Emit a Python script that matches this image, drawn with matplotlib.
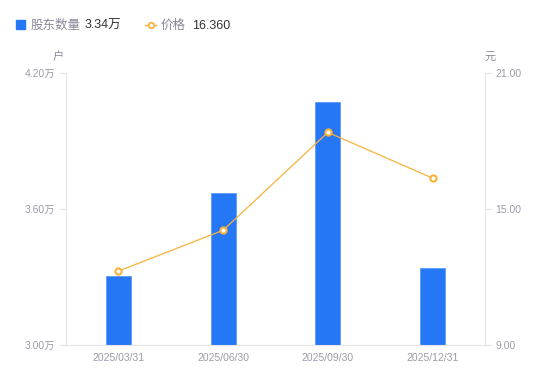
import matplotlib
matplotlib.use("Agg")
import matplotlib.pyplot as plt
from matplotlib.lines import Line2D
import numpy as np

plt.rcParams["font.family"] = ["Liberation Sans", "Noto Sans CJK SC", "DejaVu Sans"]

# data
dates = ["2025/03/31", "2025/06/30", "2025/09/30", "2025/12/31"]
holders = [3.305, 3.67, 4.07, 3.34]  # 万户
price = [12.26, 14.06, 18.38, 16.36]  # 元
left_ticks = [3.00, 3.60, 4.20]
right_ticks = [9.00, 15.00, 21.00]

bar_color = "#2577F5"
line_color = "#F9B23C"
axis_color = "#E3E3E8"
label_color = "#9B9BAA"

fig = plt.figure(figsize=(5.5, 3.81), dpi=100)
ax = fig.add_axes([0.12, 0.0945, 0.7618, 0.714])
ax2 = ax.twinx()

x = np.arange(len(dates))
ax.bar(x, holders, width=0.24, color=bar_color, edgecolor="#5A9BFA",
       linewidth=0.6, bottom=0, zorder=2)
ax.set_ylim(3.0, 4.2)
ax.set_xlim(-0.5, len(dates) - 0.5)

ax2.plot(x, price, color=line_color, linewidth=0.9, marker="o", markersize=4.5,
         markerfacecolor="white", markeredgecolor=line_color, markeredgewidth=1.5,
         zorder=3)
ax2.set_ylim(9, 21)

ax.set_yticks(left_ticks)
ax.set_yticklabels([f"{v:.2f}万" for v in left_ticks])
ax2.set_yticks(right_ticks)
ax2.set_yticklabels([f"{v:.2f}" for v in right_ticks])
ax.set_xticks(x)
ax.set_xticklabels(dates)

for a in (ax, ax2):
    for s in a.spines.values():
        s.set_visible(False)
    a.tick_params(colors=axis_color, labelcolor=label_color, labelsize=7.5,
                  length=4, width=0.8)
ax.tick_params(axis="x", length=0, pad=6)
ax.spines["left"].set_visible(True)
ax.spines["left"].set_color(axis_color)
ax.spines["bottom"].set_visible(True)
ax.spines["bottom"].set_color(axis_color)
ax2.spines["right"].set_visible(True)
ax2.spines["right"].set_color(axis_color)
ax.patch.set_visible(False)

# unit labels
fig.text(58 / 550, 1 - 57 / 381, "户", color="#888899", fontsize=8, ha="center", va="center")
fig.text(490 / 550, 1 - 57 / 381, "元", color="#888899", fontsize=8, ha="center", va="center")

# header legend
ly = 1 - 24.5 / 381
ty = 1 - 26 / 381
fig.patches.append(plt.Rectangle((16 / 550, 1 - 29 / 381), 9 / 550, 9 / 381,
                                 transform=fig.transFigure, color=bar_color,
                                 figure=fig))
fig.text(31 / 550, ty, "股东数量", color="#888899", fontsize=9, va="center")
fig.text(85 / 550, ty, f"{holders[-1]:.2f}万", color="#333333", fontsize=9, va="center")
fig.lines.append(Line2D([145 / 550, 156 / 550], [ly, ly], transform=fig.transFigure,
                        color=line_color, linewidth=1, figure=fig))
fig.lines.append(Line2D([150.5 / 550], [ly], transform=fig.transFigure, color=line_color,
                        marker="o", markersize=4, markerfacecolor="white",
                        markeredgewidth=1.3, figure=fig))
fig.text(161 / 550, ty, "价格", color="#888899", fontsize=9, va="center")
fig.text(192 / 550, ty, f"{price[-1]:.3f}", color="#333333", fontsize=9, va="center")

fig.savefig("out.png", dpi=100)
